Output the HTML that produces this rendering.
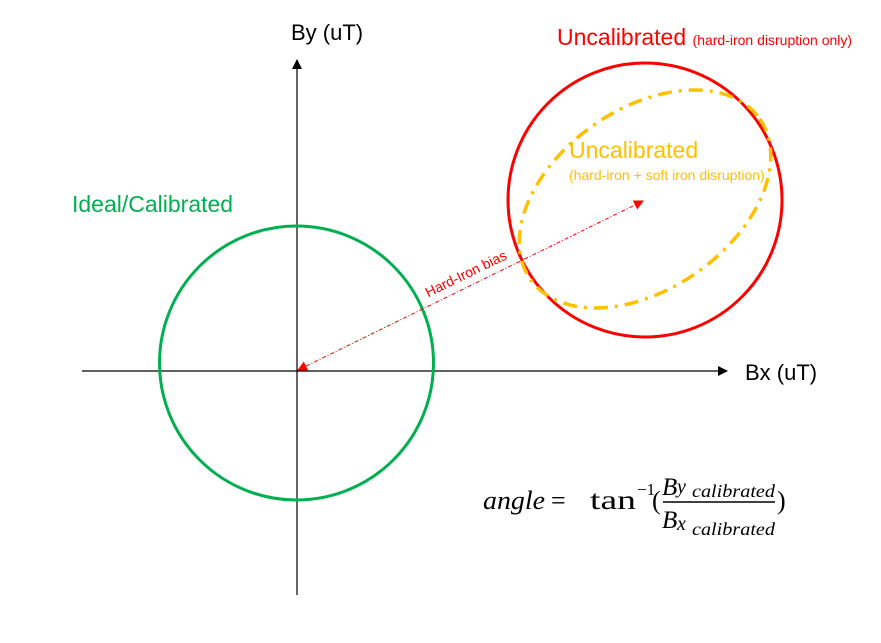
<!DOCTYPE html>
<html><head><meta charset="utf-8"><style>
body{margin:0;background:#fff;width:881px;height:638px;overflow:hidden}
.s{font-family:"Liberation Sans",sans-serif}
.m{font-family:"Liberation Serif",serif}
</style></head><body>
<svg width="881" height="638" viewBox="0 0 881 638">
<defs>
<marker id="ab" markerWidth="10" markerHeight="10" refX="9" refY="5" orient="auto" markerUnits="userSpaceOnUse"><path d="M0,0 L10,5 L0,10 z" fill="#000"/></marker>
<marker id="ar" markerWidth="10" markerHeight="10" refX="9" refY="5" orient="auto-start-reverse" markerUnits="userSpaceOnUse"><path d="M0,0 L10,5 L0,10 z" fill="#f00"/></marker>
</defs>
<line x1="297" y1="595" x2="297" y2="60" stroke="#000" stroke-width="1.2" marker-end="url(#ab)"/>
<line x1="82" y1="371" x2="727" y2="371" stroke="#000" stroke-width="1.2" marker-end="url(#ab)"/>
<circle cx="296.5" cy="363" r="137" fill="none" stroke="#00b050" stroke-width="3"/>
<circle cx="645" cy="200" r="137" fill="none" stroke="#f00" stroke-width="3"/>
<ellipse cx="645" cy="199" rx="140" ry="90" transform="rotate(-35 645 199)" fill="none" stroke="#ffc000" stroke-width="3.5" stroke-dasharray="14,7,3,7"/>
<line x1="298" y1="370" x2="643" y2="201" stroke="#f00" stroke-width="1" stroke-dasharray="4,2,1,2" marker-start="url(#ar)" marker-end="url(#ar)"/>
<g class="s">
<text x="468" y="278" font-size="14" fill="#f00" text-anchor="middle" transform="rotate(-26 468 278)">Hard-Iron bias</text>
<text x="291" y="40" font-size="22" fill="#000">By (uT)</text>
<text x="745" y="380" font-size="22" fill="#000">Bx (uT)</text>
<text x="72" y="212" font-size="23" fill="#00b050">Ideal/Calibrated</text>
<text x="557" y="45" font-size="23" fill="#f00">Uncalibrated <tspan font-size="14">(hard-iron disruption only)</tspan></text>
<text x="569" y="158" font-size="23" fill="#ffc000">Uncalibrated</text>
<text x="569" y="180" font-size="14" fill="#ffc000">(hard-iron + soft iron disruption)</text>
</g>
<g class="m" fill="#000">
<text x="483" y="509" font-size="26" font-style="italic" textLength="62" lengthAdjust="spacingAndGlyphs">angle</text>
<text x="551" y="509" font-size="26">=</text>
<text x="590" y="509" font-size="27" textLength="46" lengthAdjust="spacingAndGlyphs">tan</text>
<text x="637" y="495" font-size="17">−1</text>
<text x="652" y="509" font-size="26">(</text>
<text x="662" y="495" font-size="25" font-style="italic">B</text>
<text x="677" y="493" font-size="20" font-style="italic">y</text>
<text x="692" y="497" font-size="18" font-style="italic" textLength="83" lengthAdjust="spacingAndGlyphs">calibrated</text>
<line x1="663" y1="502" x2="775" y2="502" stroke="#000" stroke-width="1.4"/>
<text x="662" y="528" font-size="25" font-style="italic">B</text>
<text x="677" y="530" font-size="20" font-style="italic">x</text>
<text x="692" y="535" font-size="18" font-style="italic" textLength="83" lengthAdjust="spacingAndGlyphs">calibrated</text>
<text x="777" y="509" font-size="26">)</text>
</g>
</svg>
</body></html>
